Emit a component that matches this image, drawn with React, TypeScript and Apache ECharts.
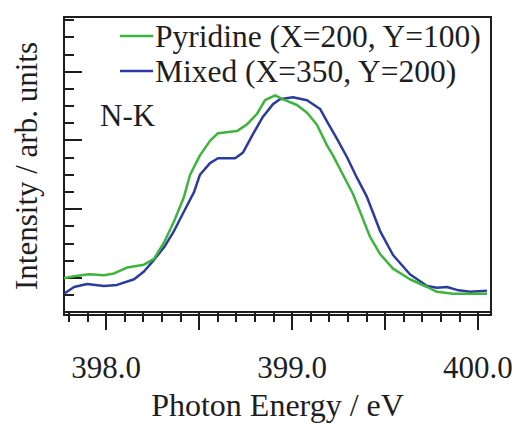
import React, { useEffect, useRef } from "react";
import * as echarts from "echarts";

// Photon energy (eV) / intensity (arb. units) pairs
const pyridineX = [397.774, 397.828, 397.909, 397.989, 398.043, 398.113, 398.204, 398.258, 398.312, 398.366, 398.419, 398.452, 398.505, 398.559, 398.602, 398.704, 398.758, 398.812, 398.855, 398.909, 398.952, 399.027, 399.081, 399.134, 399.188, 399.22, 399.274, 399.328, 399.376, 399.419, 399.473, 399.543, 399.634, 399.726, 399.78, 399.866, 399.957, 400.048];
const pyridineY = [1.97, 2.08, 2.2, 2.14, 2.25, 2.59, 2.76, 3.1, 4.05, 5.29, 6.7, 7.99, 9.12, 9.96, 10.41, 10.53, 10.92, 11.54, 12.33, 12.61, 12.38, 12.05, 11.6, 10.9, 9.7, 9.12, 7.99, 6.87, 5.57, 4.39, 3.38, 2.53, 1.91, 1.46, 1.18, 1.07, 1.07, 1.07];

const mixedX = [397.774, 397.828, 397.898, 397.989, 398.059, 398.151, 398.204, 398.258, 398.312, 398.366, 398.419, 398.473, 398.505, 398.559, 398.602, 398.694, 398.737, 398.79, 398.844, 398.898, 398.935, 399.005, 399.081, 399.151, 399.194, 399.242, 399.296, 399.349, 399.403, 399.473, 399.543, 399.634, 399.726, 399.78, 399.833, 399.887, 399.957, 400.048];
const mixedY = [1.07, 1.46, 1.63, 1.52, 1.58, 1.91, 2.36, 3.04, 3.77, 4.73, 5.85, 6.98, 7.99, 8.67, 8.95, 8.95, 9.29, 10.36, 11.37, 12.1, 12.38, 12.5, 12.33, 11.82, 10.98, 10.08, 9.01, 7.82, 6.7, 4.73, 3.32, 2.2, 1.52, 1.41, 1.46, 1.29, 1.18, 1.24];

const xMinorTicks = [397.8, 397.9, 398.0, 398.1, 398.2, 398.3, 398.4, 398.5, 398.6, 398.7, 398.8, 398.9, 399.0, 399.1, 399.2, 399.3, 399.4, 399.5, 399.6, 399.7, 399.8, 399.9, 400.0];
const xMajorTicks = [398.0, 398.5, 399.0, 399.5, 400.0];
const xTickLabels = [398.0, 399.0, 400.0];
const yMinorTicks = [0, 1, 2, 3, 4, 5, 6, 7, 8, 9, 10, 11, 12, 13, 14, 15, 16, 17];
const yMajorTicks = [2, 6, 10, 14];

const seriesNames = ["Pyridine (X=200, Y=100)", "Mixed (X=350, Y=200)"];
const panelLabel = "N-K";

const FONT = "Liberation Serif";
const INK = "#1e1e1e";

export default function App() {
  const ref = useRef<HTMLDivElement>(null);
  useEffect(() => {
    if (!ref.current) return;
    const chart = echarts.init(ref.current, null, { renderer: "svg" });
    const xMin = 397.774;
    const xMax = 400.07;
    const yMin = -0.17;
    const yMax = 17.17;
    const baseX = {
      type: "value" as const,
      min: xMin,
      max: xMax,
      position: "bottom" as const,
      splitLine: { show: false },
    };
    const baseY = {
      type: "value" as const,
      min: yMin,
      max: yMax,
      position: "left" as const,
      splitLine: { show: false },
      axisLabel: { show: false },
    };
    chart.setOption({
      animation: false,
      backgroundColor: "#ffffff",
      grid: {
        left: 64,
        top: 17,
        right: 25,
        bottom: 101,
        show: true,
        borderColor: INK,
        borderWidth: 2,
        backgroundColor: "transparent",
      },
      legend: {
        orient: "vertical",
        left: 115,
        top: 15,
        icon: "rect",
        itemWidth: 33,
        itemHeight: 2.5,
        itemGap: 3,
        data: seriesNames,
        textStyle: { fontFamily: FONT, fontSize: 31.5, color: INK, lineHeight: 32, padding: [0, 0, 0, -3] },
      },
      xAxis: [
        {
          ...baseX,
          name: "Photon Energy / eV",
          nameLocation: "middle",
          nameGap: 74,
          nameTextStyle: { fontFamily: FONT, fontSize: 32, color: INK },
          axisLine: { show: true, lineStyle: { color: INK, width: 2 } },
          axisTick: { show: true, inside: false, length: 10, customValues: xMinorTicks, lineStyle: { color: INK, width: 2 } },
          axisLabel: {
            show: true,
            customValues: xTickLabels,
            margin: 37,
            fontFamily: FONT,
            fontSize: 31,
            color: INK,
            formatter: (v: number) => v.toFixed(1),
          },
        },
        {
          ...baseX,
          axisLine: { show: false },
          axisTick: { show: true, inside: false, length: 18, customValues: xMajorTicks, lineStyle: { color: INK, width: 2 } },
          axisLabel: { show: false },
        },
      ],
      yAxis: [
        {
          ...baseY,
          name: "Intensity / arb. units",
          nameLocation: "middle",
          nameGap: 22,
          nameTextStyle: { fontFamily: FONT, fontSize: 31, color: INK },
          axisLine: { show: true, lineStyle: { color: INK, width: 2 } },
          axisTick: { show: true, inside: true, length: 10, customValues: yMinorTicks, lineStyle: { color: INK, width: 2 } },
        },
        {
          ...baseY,
          axisLine: { show: false },
          axisTick: { show: true, inside: true, length: 18, customValues: yMajorTicks, lineStyle: { color: INK, width: 2 } },
        },
      ],
      graphic: [
        {
          type: "text",
          left: 100,
          top: 100,
          style: { text: panelLabel, fontFamily: FONT, fontSize: 31, fill: INK },
        },
      ],
      series: [
        {
          name: seriesNames[0],
          type: "line",
          xAxisIndex: 0,
          yAxisIndex: 0,
          symbol: "none",
          lineStyle: { color: "#3db53d", width: 2.5 },
          itemStyle: { color: "#3db53d" },
          data: pyridineX.map((x, i) => [x, pyridineY[i]]),
          z: 3,
        },
        {
          name: seriesNames[1],
          type: "line",
          xAxisIndex: 0,
          yAxisIndex: 0,
          symbol: "none",
          lineStyle: { color: "#2b3c9e", width: 2.5 },
          itemStyle: { color: "#2b3c9e" },
          data: mixedX.map((x, i) => [x, mixedY[i]]),
          z: 2,
        },
      ],
    });
    return () => chart.dispose();
  }, []);
  return <div ref={ref} style={{ width: 516, height: 426, position: "absolute", left: 0, top: 0 }} />;
}
